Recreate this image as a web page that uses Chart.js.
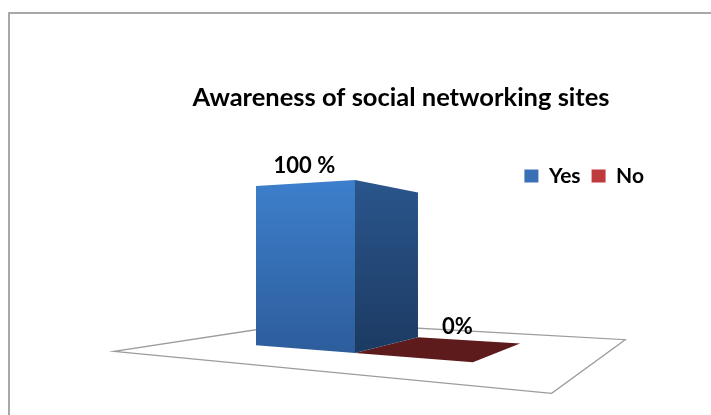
<!DOCTYPE html>
<html>
<head>
<meta charset="utf-8">
<script src="https://cdn.jsdelivr.net/npm/chart.js@4.4.1/dist/chart.umd.min.js"></script>
<style>
  html, body { margin: 0; padding: 0; background: #fff; overflow: hidden; }
  #frame { position: absolute; left: 8px; top: 12px; width: 800px; height: 500px; border: 2px solid #a8a8a8; }
  #wrap { position: absolute; left: 0; top: 0; width: 711px; height: 415px; }
</style>
</head>
<body>
<div id="frame"></div>
<div id="wrap"><canvas id="chart"></canvas></div>
<script>
const chartTitle = "Awareness of social networking sites";
const categories = ["Awareness"];
const seriesNames = ["Yes", "No"];
const yesValues = [100];
const noValues = [0];
const valueLabels = ["100 %", "0%"];

// face colours per series: legend, front top/bottom, side top/bottom, top face
const seriesStyle = [
  { legend: "#3a70b5", front: ["#3d7fcc", "#2d5d9b"], side: ["#2a568c", "#1c3a62"], top: "#4a8ad6" },
  { legend: "#c0393b", front: ["#b23638", "#8a2527"], side: ["#7a2022", "#5a1819"], top: "#5e1b1b" },
];
const labelShift = [[1, -17], [46, -31]];

// camera for the Excel-like 3D look (2 point perspective)
const view = { cx: 355, horizon: 256, f: 689.5, tanA: 0.5584, dist: 10, camH: 1.4068 };
const world = { halfT: 3.19, top: 2.509, depth: 2.24, floorFront: -1.58, floorBack: 3.6 };
const cosA = 1 / Math.sqrt(1 + view.tanA * view.tanA);
const sinA = view.tanA * cosA;

function project(t, s, h) {
  const xc = cosA * t + sinA * s;
  const zc = view.dist - sinA * t + cosA * s;
  const yc = h - view.camH;
  return [view.cx + (view.f * xc) / zc, view.horizon - (view.f * yc) / zc];
}

function poly(ctx, pts, fill, stroke) {
  ctx.beginPath();
  pts.forEach((p, i) => (i ? ctx.lineTo(p[0], p[1]) : ctx.moveTo(p[0], p[1])));
  ctx.closePath();
  if (fill) {
    ctx.fillStyle = fill;
    ctx.fill();
  }
  if (stroke) {
    ctx.strokeStyle = stroke;
    ctx.lineWidth = 1.3;
    ctx.stroke();
  }
}

function vGrad(ctx, pts, cols) {
  const ys = pts.map((p) => p[1]);
  const g = ctx.createLinearGradient(0, Math.min(...ys), 0, Math.max(...ys));
  g.addColorStop(0, cols[0]);
  g.addColorStop(1, cols[1]);
  return g;
}

const bars3d = {
  id: "bars3d",
  beforeDatasetsDraw(chart) {
    const ctx = chart.ctx;
    const area = chart.chartArea;
    const mid = (area.left + area.right) / 2;
    const toT = (px) => ((px - mid) / (area.width / 2)) * world.halfT;
    const toH = (py) => ((area.bottom - py) / area.height) * world.top;

    ctx.save();
    poly(
      ctx,
      [
        project(-world.halfT, world.floorFront, 0),
        project(world.halfT, world.floorFront, 0),
        project(world.halfT, world.floorBack, 0),
        project(-world.halfT, world.floorBack, 0),
      ],
      "#ffffff",
      "#9c9c9c"
    );

    const labels = [];
    for (let i = chart.data.datasets.length - 1; i >= 0; i--) {
      const meta = chart.getDatasetMeta(i);
      const st = seriesStyle[i];
      meta.data.forEach((bar) => {
        const p = bar.getProps(["x", "y", "base", "width"], true);
        const t0 = toT(p.x - p.width / 2);
        const t1 = toT(p.x + p.width / 2);
        const h = toH(p.y);
        const h0 = toH(p.base);
        const d = world.depth;
        if (h - h0 > 0.001) {
          const side = [project(t1, 0, h0), project(t1, d, h0), project(t1, d, h), project(t1, 0, h)];
          poly(ctx, side, vGrad(ctx, side, st.side));
          const front = [project(t0, 0, h0), project(t1, 0, h0), project(t1, 0, h), project(t0, 0, h)];
          poly(ctx, front, vGrad(ctx, front, st.front));
        }
        if (h < view.camH) {
          poly(ctx, [project(t0, 0, h), project(t1, 0, h), project(t1, d, h), project(t0, d, h)], st.top);
        }
        const a = project((t0 + t1) / 2, 0, h);
        labels.push([valueLabels[i], a[0] + labelShift[i][0], a[1] + labelShift[i][1]]);
      });
    }

    ctx.fillStyle = "#000";
    ctx.font = "bold 22px Lato";
    ctx.textAlign = "center";
    ctx.textBaseline = "middle";
    labels.forEach((l) => ctx.fillText(l[0], l[1], l[2]));
    ctx.restore();
    return false;
  },
};

new Chart(document.getElementById("chart"), {
  type: "bar",
  data: {
    labels: categories,
    datasets: [
      { label: seriesNames[0], data: yesValues, backgroundColor: seriesStyle[0].legend },
      { label: seriesNames[1], data: noValues, backgroundColor: seriesStyle[1].legend },
    ],
  },
  options: {
    responsive: true,
    maintainAspectRatio: false,
    animation: false,
    layout: { padding: { left: 147, right: 56, top: 0, bottom: 40 } },
    datasets: { bar: { categoryPercentage: 0.5605, barPercentage: 1 } },
    scales: {
      x: { display: false },
      y: { display: false, min: 0, max: 100 },
    },
    plugins: {
      tooltip: { enabled: false },
      title: {
        display: true,
        text: chartTitle,
        color: "#000",
        font: { family: "Lato", size: 25.5, weight: "bold" },
        padding: { top: 82, bottom: 42 },
      },
      legend: {
        position: "top",
        align: "end",
        labels: {
          boxWidth: 14,
          boxHeight: 13,
          padding: 11,
          color: "#000",
          font: { family: "Lato", size: 21, weight: "bold" },
        },
      },
    },
  },
  plugins: [bars3d],
});
</script>
</body>
</html>
